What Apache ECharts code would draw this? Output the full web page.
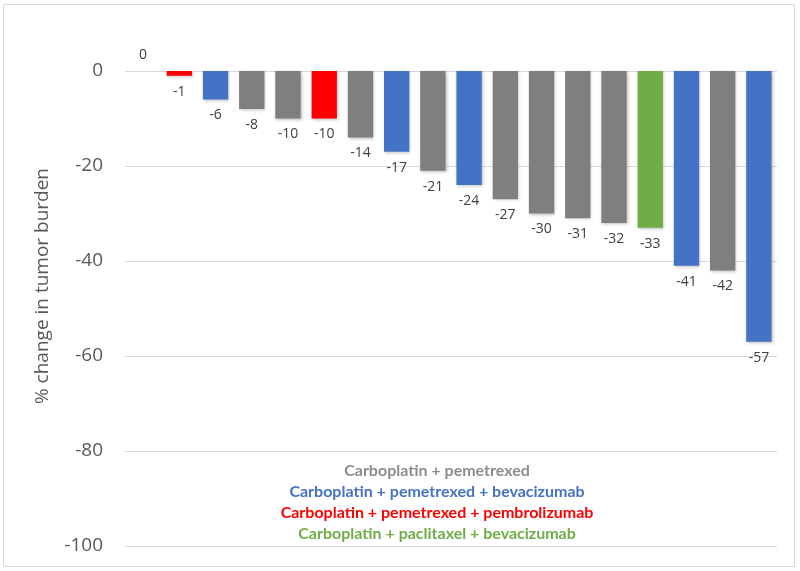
<!DOCTYPE html>
<html>
<head>
<meta charset="utf-8">
<script src="https://cdn.jsdelivr.net/npm/echarts@6/dist/echarts.min.js"></script>
<style>
  html, body { margin: 0; padding: 0; background: #fff; }
  #chart { width: 800px; height: 571px; }
</style>
</head>
<body>
<div id="chart"></div>
<script>
// patients, ordered by change in tumor burden
var patients = ['1','2','3','4','5','6','7','8','9','10','11','12','13','14','15','16','17','18'];
var changes = [0, -1, -6, -8, -10, -10, -14, -17, -21, -24, -27, -30, -31, -32, -33, -41, -42, -57];
// regimen per patient: cp, cpb, cpp, cpab
var regimens = ['cp','cpp','cpb','cp','cp','cpp','cp','cpb','cp','cpb','cp','cp','cp','cp','cpab','cpb','cp','cpb'];
var yTicks = [0, -20, -40, -60, -80, -100];

var legendKeys = ['cp', 'cpb', 'cpp', 'cpab'];
var legendNames = [
  'Carboplatin + pemetrexed',
  'Carboplatin + pemetrexed + bevacizumab',
  'Carboplatin + pemetrexed + pembrolizumab',
  'Carboplatin + paclitaxel + bevacizumab'
];

var barColors = { cp: '#7f7f7f', cpb: '#4472c4', cpp: '#ff0000', cpab: '#70ad47' };
var textColors = { cp: '#8c8c8c', cpb: '#4472c4', cpp: '#ff0000', cpab: '#70ad47' };

var chart = echarts.init(document.getElementById('chart'));

var barData = changes.map(function(v, i) {
  return {
    value: v,
    itemStyle: { color: barColors[regimens[i]] },
    label: { position: v >= 0 ? 'top' : 'bottom' }
  };
});

var graphics = [{
  type: 'rect',
  shape: { x: 3.5, y: 4.5, width: 791, height: 562 },
  style: { fill: 'none', stroke: '#d9d9d9', lineWidth: 1 },
  silent: true
}, {
  type: 'text',
  x: 43, y: 286,
  rotation: Math.PI / 2,
  style: {
    text: '% change in tumor burden',
    fill: '#595959',
    font: '19px "Open Sans", sans-serif',
    align: 'center',
    verticalAlign: 'middle'
  }
}];

legendNames.forEach(function(name, i) {
  graphics.push({
    type: 'text',
    x: 437, y: 471 + i * 21,
    style: {
      text: name,
      fill: textColors[legendKeys[i]],
      font: 'bold 16px Lato, sans-serif',
      align: 'center',
      verticalAlign: 'middle'
    }
  });
});

var option = {
  animation: false,
  grid: { left: 125, right: 23, top: 71, bottom: 25 },
  xAxis: {
    type: 'category',
    data: patients,
    axisLine: { show: false },
    axisTick: { show: false },
    axisLabel: { show: false }
  },
  yAxis: {
    type: 'value',
    min: yTicks[yTicks.length - 1],
    max: yTicks[0],
    interval: 20,
    axisLine: { show: false },
    axisTick: { show: false },
    axisLabel: {
      color: '#595959',
      fontSize: 19,
      fontFamily: '"Open Sans", sans-serif',
      margin: 22
    },
    splitLine: { lineStyle: { color: '#d9d9d9', width: 1 } }
  },
  series: [{
    type: 'bar',
    data: barData,
    barCategoryGap: '30%',
    itemStyle: {
      shadowBlur: 3,
      shadowColor: 'rgba(0,0,0,0.25)',
      shadowOffsetX: 1,
      shadowOffsetY: 1
    },
    label: {
      show: true,
      distance: 9,
      color: '#404040',
      fontSize: 14,
      fontFamily: '"Open Sans", sans-serif'
    }
  }],
  graphic: graphics
};

chart.setOption(option);
</script>
</body>
</html>
